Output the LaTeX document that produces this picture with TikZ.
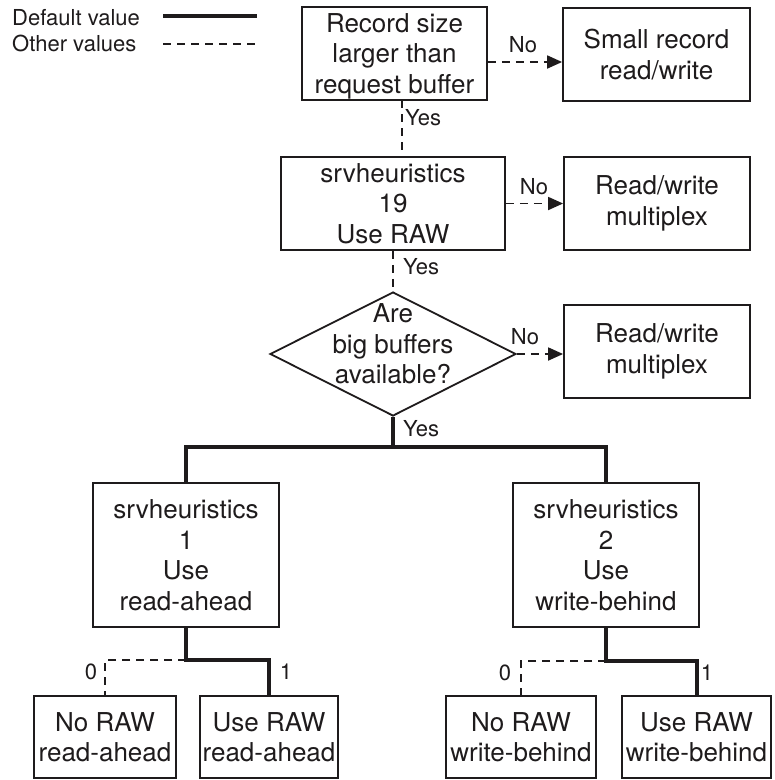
\documentclass[tikz,border=0pt]{standalone}
\usepackage{fontspec}
\setmainfont{TeX Gyre Heros}
\usetikzlibrary{arrows.meta,shapes.geometric}
\definecolor{ink}{RGB}{30,27,28}
\begin{document}
\begin{tikzpicture}[x=1pt,y=-1pt,
  every node/.style={text=ink},
  boxtext/.style={align=center,inner sep=0pt,font=\fontsize{26}{30.5}\selectfont},
  box/.style={boxtext,draw=ink,line width=1.8pt},
  decision/.style={diamond,draw=ink,line width=1.8pt,inner sep=0pt},
  lbl/.style={font=\fontsize{22}{26}\selectfont,inner sep=0pt},
  default/.style={draw=ink,line width=4pt},
  other/.style={draw=ink,line width=1.8pt,dash pattern=on 8pt off 6pt},
  tip/.style={-{Triangle[length=15pt,width=13pt]}}
]
\useasboundingbox (0,0) rectangle (775,780);

% legend
\node[lbl,anchor=west] (legdef) at (12,18) {Default value};
\node[lbl,anchor=west] (legoth) at (12,43) {Other values};
\coordinate (d1) at (163,16); \coordinate (d2) at (257,16);
\coordinate (o1) at (163,44); \coordinate (o2) at (257,44);
\draw[default] (d1) -- (d2);
\draw[other] (o1) -- (o2);

% decision chain
\node[box,text depth=0pt,minimum width=185,minimum height=93] (rec) at (394.5,53.5)
  {Record size\\larger than\\request buffer};
\node[box,minimum width=187,minimum height=93] (small) at (656.5,54.5)
  {Small record\\read/write};
\node[box,minimum width=224,minimum height=93] (raw) at (393,203.5)
  {srvheuristics\\19\\Use RAW};
\node[box,minimum width=186,minimum height=93] (mux1) at (657,203.5)
  {Read/write\\multiplex};
\node[decision,minimum width=246,minimum height=124] (big) at (393,354) {};
\node[boxtext] (bigtext) at (393,344) {Are\\big buffers\\available?};
\node[box,minimum width=186,minimum height=93] (mux2) at (657,351.5)
  {Read/write\\multiplex};

% read-ahead / write-behind
\node[box,minimum width=186,minimum height=144] (ra) at (186,555)
  {srvheuristics\\1\\Use\\read-ahead};
\node[box,minimum width=186,minimum height=144] (wb) at (606,555)
  {srvheuristics\\2\\Use\\write-behind};

\node[box,minimum width=142,minimum height=82] (nora) at (105,737)
  {No RAW\\read-ahead};
\node[box,minimum width=138,minimum height=82] (usera) at (269,737)
  {Use RAW\\read-ahead};
\node[box,minimum width=150,minimum height=82] (nowb) at (521,737)
  {No RAW\\write-behind};
\node[box,minimum width=149,minimum height=82] (usewb) at (696.5,737)
  {Use RAW\\write-behind};

% connectors
\coordinate (recout) at (402,100);
\coordinate (rawin) at (402,157);
\draw[other,tip] (rec.east |- 0,62) -- (small.west |- 0,62);
\draw[other] (recout) -- (rawin);
\draw[other,tip] (raw.east) -- (mux1.west);
\draw[other] (raw.south) -- (big.north);
\draw[other,tip] (big.east) -- (big.east -| mux2.west);

\coordinate (split) at (393,447);
\draw[default] (big.south) -- (split);
\draw[default] (ra.north) |- (split) -| (wb.north);

\coordinate (rasplit) at (186,660);
\draw[default] (ra.south) -- (rasplit) -| (usera.north);
\draw[other] (rasplit) -| (nora.north);

\coordinate (wbsplit) at (606,661);
\draw[default] (wb.south) -- (wbsplit) -| (usewb.north);
\draw[other] (wbsplit) -| (nowb.north);

% branch labels
\node[lbl] (no1) at (523,45) {No};
\node[lbl,anchor=west] (yes1) at (405,118) {Yes};
\node[lbl] (no2) at (534,187) {No};
\node[lbl,anchor=west] (yes2) at (403,267) {Yes};
\node[lbl] (no3) at (525,337) {No};
\node[lbl,anchor=west] (yes3) at (403,429) {Yes};
\node[lbl] (z1) at (91,672) {0};
\node[lbl] (o1l) at (286,672) {1};
\node[lbl] (z2) at (505,673) {0};
\node[lbl] (o2l) at (707,673) {1};
\end{tikzpicture}
\end{document}
